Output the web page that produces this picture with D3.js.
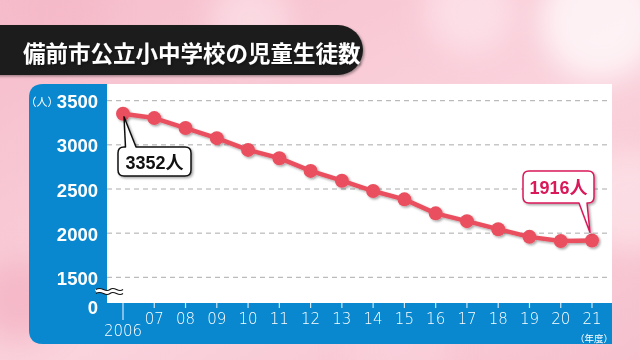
<!DOCTYPE html>
<html>
<head>
<meta charset="utf-8">
<script src="https://cdn.jsdelivr.net/npm/d3@7"></script>
<style>
  html, body { margin: 0; padding: 0; background: #f8c8d3; }
  svg { display: block; }
</style>
</head>
<body>
<div id="chart"></div>
<script>
const title = "備前市公立小中学校の児童生徒数";
const years = [2006, 2007, 2008, 2009, 2010, 2011, 2012, 2013, 2014, 2015, 2016, 2017, 2018, 2019, 2020, 2021];
const yearLabels = ["2006", "07", "08", "09", "10", "11", "12", "13", "14", "15", "16", "17", "18", "19", "20", "21"];
const students = [3352, 3303, 3190, 3076, 2943, 2849, 2705, 2594, 2477, 2383, 2224, 2136, 2045, 1958, 1910, 1916];
const yTicks = [0, 1500, 2000, 2500, 3000, 3500];
const gridTicks = [1500, 2000, 2500, 3000, 3500];

const width = 640, height = 360;
const jp = "'Liberation Sans', Arial, 'Noto Sans CJK JP', sans-serif";

const svg = d3.select("#chart").append("svg")
    .attr("width", width)
    .attr("height", height);

const defs = svg.append("defs");

// background gradient + blur for bokeh
const bg = defs.append("linearGradient").attr("id", "bg")
    .attr("x1", 0).attr("y1", 0).attr("x2", 1).attr("y2", 1);
bg.append("stop").attr("offset", "0%").attr("stop-color", "#f6bccb");
bg.append("stop").attr("offset", "55%").attr("stop-color", "#fad3dd");
bg.append("stop").attr("offset", "100%").attr("stop-color", "#f8c0ce");

defs.append("filter").attr("id", "blur")
    .attr("x", "-50%").attr("y", "-50%").attr("width", "200%").attr("height", "200%")
  .append("feGaussianBlur").attr("stdDeviation", 14);

const shadow = defs.append("filter").attr("id", "shadow")
    .attr("x", "-20%").attr("y", "-20%").attr("width", "140%").attr("height", "140%");
shadow.append("feDropShadow").attr("dx", 1.5).attr("dy", 1.5)
    .attr("stdDeviation", 1).attr("flood-color", "#000").attr("flood-opacity", 0.35);

svg.append("rect").attr("width", width).attr("height", height).attr("fill", "url(#bg)");

const blobs = [[600, 20, 60, "#fff"], [470, 10, 45, "#fde6ec"], [250, 20, 40, "#fce1e8"],
               [630, 200, 50, "#fde4ea"], [20, 300, 40, "#f4b0c2"], [400, 350, 50, "#fbd0db"],
               [60, 10, 45, "#f5b8c8"]];
svg.append("g").attr("filter", "url(#blur)")
  .selectAll("circle").data(blobs).join("circle")
    .attr("cx", d => d[0]).attr("cy", d => d[1]).attr("r", d => d[2])
    .attr("fill", d => d[3]).attr("opacity", 0.7);

// title bar
svg.append("rect")
    .attr("x", -30).attr("y", 25).attr("width", 393).attr("height", 50)
    .attr("rx", 25)
    .attr("fill", "#1c1c1c")
    .attr("filter", "url(#shadow)");
svg.append("text")
    .attr("x", 23).attr("y", 52)
    .attr("dominant-baseline", "central")
    .attr("fill", "#fff")
    .attr("font-family", "'Noto Sans CJK JP', sans-serif")
    .attr("font-weight", "bold")
    .attr("font-size", 22.5)
    .attr("filter", "url(#shadow)")
    .text(title);

// panel
const panel = { left: 29, top: 84, right: 612, bottom: 344 };
const plot = { left: 107, top: 84, right: 612, bottom: 303 };

svg.append("path")
    .attr("d", `M${panel.left + 14},${panel.top} H${panel.right} V${panel.bottom} H${panel.left + 14}
                Q${panel.left},${panel.bottom} ${panel.left},${panel.bottom - 14}
                V${panel.top + 14} Q${panel.left},${panel.top} ${panel.left + 14},${panel.top} Z`)
    .attr("fill", "#0a88cf");
svg.append("rect")
    .attr("x", plot.left).attr("y", plot.top)
    .attr("width", plot.right - plot.left).attr("height", plot.bottom - plot.top)
    .attr("fill", "#fff");

const x = d3.scaleLinear().domain([2006, 2021]).range([123, 592]);
const y = d3.scaleLinear().domain([0, 1500, 3500]).range([303, 277.3, 100.7]);

// gridlines
svg.append("g").selectAll("line").data(gridTicks).join("line")
    .attr("x1", plot.left).attr("x2", 608)
    .attr("y1", d => y(d)).attr("y2", d => y(d))
    .attr("stroke", "#aaa").attr("stroke-width", 1)
    .attr("stroke-dasharray", "5,4");

// y labels
svg.append("g").selectAll("text").data(yTicks).join("text")
    .attr("x", 98)
    .attr("y", d => d === 0 ? 307 : y(d) + 1)
    .attr("text-anchor", "end")
    .attr("dominant-baseline", "central")
    .attr("fill", "#fff")
    .attr("font-family", jp)
    .attr("font-weight", "bold")
    .attr("font-size", 18.5)
    .text(d => d);

svg.append("text")
    .attr("x", 42).attr("y", 101)
    .attr("text-anchor", "middle")
    .attr("dominant-baseline", "central")
    .attr("fill", "#fff")
    .attr("font-family", "'Noto Sans CJK JP', sans-serif")
    .attr("font-size", 11)
    .text("（人）");

// axis break mark
const wave = (oy) => {
  const p = d3.path();
  p.moveTo(96, oy);
  p.bezierCurveTo(102, oy - 4, 105, oy + 4, 110, oy);
  p.bezierCurveTo(115, oy - 4, 118, oy + 4, 123, oy);
  return p.toString();
};
svg.append("path").attr("d", wave(291.5)).attr("fill", "none")
    .attr("stroke", "#fff").attr("stroke-width", 4);
svg.append("path").attr("d", wave(289.5)).attr("fill", "none")
    .attr("stroke", "#111").attr("stroke-width", 1.2);
svg.append("path").attr("d", wave(293.5)).attr("fill", "none")
    .attr("stroke", "#111").attr("stroke-width", 1.2);

// x axis ticks and labels
const xa = svg.append("g");
xa.selectAll("line").data(years).join("line")
    .attr("x1", d => x(d)).attr("x2", d => x(d))
    .attr("y1", plot.bottom).attr("y2", (d, i) => i === 0 ? 320 : 308)
    .attr("stroke", "#cfe6f5").attr("stroke-width", 1.2);
xa.selectAll("text").data(years).join("text")
    .attr("x", d => x(d))
    .attr("y", (d, i) => i === 0 ? 331 : 319)
    .attr("text-anchor", "middle")
    .attr("dominant-baseline", "central")
    .attr("fill", "#fff")
    .attr("font-family", "'DejaVu Sans', sans-serif")
    .attr("font-weight", 200)
    .attr("font-size", 15)
    .text((d, i) => yearLabels[i]);

svg.append("text")
    .attr("x", 594).attr("y", 337.5)
    .attr("text-anchor", "middle")
    .attr("dominant-baseline", "central")
    .attr("fill", "#fff")
    .attr("font-family", "'Noto Sans CJK JP', sans-serif")
    .attr("font-size", 9.5)
    .text("（年度）");

// line + points
const lineColor = "#e9505f";
const data = years.map((yr, i) => ({ year: yr, value: students[i] }));
const line = d3.line().x(d => x(d.year)).y(d => y(d.value));

const series = svg.append("g").attr("filter", "url(#shadow)");
series.append("path")
    .datum(data)
    .attr("d", line)
    .attr("fill", "none")
    .attr("stroke", lineColor)
    .attr("stroke-width", 4.5)
    .attr("stroke-linejoin", "round");
series.selectAll("circle").data(data).join("circle")
    .attr("cx", d => x(d.year)).attr("cy", d => y(d.value))
    .attr("r", 7)
    .attr("fill", lineColor);

// callouts
function callout(box, tip, notch, label, color) {
  const r = 6;
  const { x0, y0, x1, y1 } = box;
  const p = d3.path();
  p.moveTo(x0 + r, y0);
  if (notch.side === "top") {
    p.lineTo(notch.a, y0); p.lineTo(tip[0], tip[1]); p.lineTo(notch.b, y0);
  }
  p.lineTo(x1 - r, y0); p.quadraticCurveTo(x1, y0, x1, y0 + r);
  p.lineTo(x1, y1 - r); p.quadraticCurveTo(x1, y1, x1 - r, y1);
  if (notch.side === "bottom") {
    p.lineTo(notch.b, y1); p.lineTo(tip[0], tip[1]); p.lineTo(notch.a, y1);
  }
  p.lineTo(x0 + r, y1); p.quadraticCurveTo(x0, y1, x0, y1 - r);
  p.lineTo(x0, y0 + r); p.quadraticCurveTo(x0, y0, x0 + r, y0);
  p.closePath();
  svg.append("path").attr("d", p.toString())
      .attr("fill", "#fff").attr("stroke", color).attr("stroke-width", 1.5)
      .attr("stroke-linejoin", "round")
      .attr("filter", "url(#shadow)");
  svg.append("text")
      .attr("x", (x0 + x1) / 2).attr("y", (y0 + y1) / 2 + 1)
      .attr("text-anchor", "middle")
      .attr("dominant-baseline", "central")
      .attr("fill", color)
      .attr("font-family", jp)
      .attr("font-weight", "bold")
      .attr("font-size", 18)
      .text(label);
}

const first = data[0], last = data[data.length - 1];
callout({ x0: 118, y0: 147, x1: 191, y1: 176 },
        [x(first.year) + 1, y(first.value) + 3], { side: "top", a: 125.5, b: 136 },
        first.value + "人", "#111");
callout({ x0: 523, y0: 171, x1: 594, y1: 203 },
        [x(last.year) - 2, y(last.value) - 8], { side: "bottom", a: 579, b: 587 },
        last.value + "人", "#d9195a");
</script>
</body>
</html>
